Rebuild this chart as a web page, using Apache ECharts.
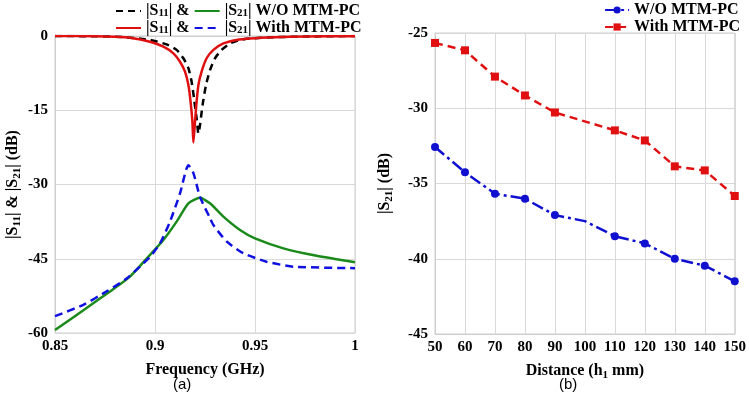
<!DOCTYPE html>
<html>
<head>
<meta charset="utf-8">
<script src="https://cdn.jsdelivr.net/npm/echarts@6/dist/echarts.min.js"></script>
<style>
html, body { margin: 0; padding: 0; background: #fff; }
#main { width: 749px; height: 403px; }
</style>
</head>
<body>
<div id="main"></div>
<script>
var myChart = echarts.init(document.getElementById('main'));

// (a) frequency sweep, GHz / dB
var fS11WO = [0.85, 0.87, 0.88, 0.8875, 0.8975, 0.9058, 0.9108, 0.9142, 0.9167, 0.9183, 0.9195, 0.9208, 0.9217, 0.9225, 0.9238, 0.9255, 0.9275, 0.93, 0.9333, 0.9375, 0.9425, 0.9475, 0.96, 0.975, 1.0];
var s11WO  = [0, -0.05, -0.15, -0.34, -0.8, -1.7, -2.8, -4.5, -6.5, -9.2, -12.6, -16.6, -19.7, -18, -13.9, -9.9, -6.9, -4.5, -2.8, -1.5, -0.8, -0.5, -0.25, -0.1, 0];
var fS11W  = [0.85, 0.87, 0.88, 0.8875, 0.8975, 0.9042, 0.9092, 0.9125, 0.915, 0.9167, 0.9178, 0.9187, 0.9192, 0.92, 0.9208, 0.9217, 0.9233, 0.9258, 0.9292, 0.9342, 0.9408, 0.9475, 0.96, 0.975, 1.0];
var s11W   = [0, -0.05, -0.15, -0.34, -1.15, -2.16, -3.5, -5.2, -7.2, -9.9, -13.3, -17.3, -21.5, -17.3, -13.3, -9.9, -7.2, -4.5, -2.8, -1.5, -0.8, -0.5, -0.25, -0.1, -0.05];
var fS21WO = [0.85, 0.8642, 0.8775, 0.8875, 0.8975, 0.9042, 0.9108, 0.9167, 0.9225, 0.9275, 0.9342, 0.9425, 0.95, 0.9642, 0.9808, 1.0];
var s21WO  = [-59.4, -55.4, -51.6, -48.6, -44.2, -41.2, -37.5, -33.8, -32.7, -33.8, -36.5, -39.2, -40.9, -42.9, -44.4, -45.7];
var fS21W  = [0.85, 0.8642, 0.8758, 0.8858, 0.8975, 0.9025, 0.9075, 0.9125, 0.9167, 0.9192, 0.9225, 0.9275, 0.9292, 0.9358, 0.9442, 0.9558, 0.9692, 1.0];
var s21W   = [-56.6, -54.3, -51.6, -49, -44.6, -41.9, -37.5, -31.8, -26.1, -27.7, -32.5, -36.8, -38.2, -41.5, -43.9, -45.6, -46.6, -46.9];

// (b) distance sweep, mm / dB
var distWO = [50, 60, 70, 80, 90, 100, 110, 120, 130, 140, 150];
var s21DistWO = [-32.57, -34.26, -35.68, -36.01, -37.1, -37.5, -38.5, -38.98, -40.0, -40.46, -41.5];
var distW = [50, 60, 70, 80, 90, 110, 120, 130, 140, 150];
var s21DistW = [-25.66, -26.15, -27.9, -29.15, -30.28, -31.47, -32.14, -33.86, -34.13, -35.83];

var yTicksA = [0, -15, -30, -45, -60];
var xTicksA = ['0.85', '0.9', '0.95', '1'];

function zip(xs, ys) {
    return xs.map(function (x, k) { return [x, ys[k]]; });
}

var serif = 'Liberation Serif';
var sub = { fontSize: 11, lineHeight: 10, verticalAlign: 'bottom', fontFamily: serif, fontWeight: 'bold', color: '#000' };
var txt = { fontSize: 16, lineHeight: 20, fontFamily: serif, fontWeight: 'bold', color: '#000' };
var gridLine = { show: true, lineStyle: { color: '#d9d9d9', width: 1 } };
var axisLbl = { color: '#000', fontFamily: serif, fontWeight: 'bold', fontSize: 15 };

var legendNames = {
    'S11 WO': '|S{s|11}| &',
    'S21 WO': '|S{s|21}| W/O MTM-PC',
    'S11 W': '|S{s|11}| &',
    'S21 W': '|S{s|21}| With MTM-PC'
};

function legendA(top, names) {
    return {
        left: 115, top: top, itemWidth: 25, itemHeight: 12, itemGap: 4, padding: 0,
        data: names,
        itemStyle: { opacity: 0 },
        formatter: function (n) { return legendNames[n]; },
        textStyle: { fontFamily: serif, fontWeight: 'bold', fontSize: 16, color: '#000', lineHeight: 16,
            rich: { s: { fontSize: 11, lineHeight: 8, verticalAlign: 'bottom', fontFamily: serif, fontWeight: 'bold', color: '#000' } } }
    };
}

option = {
    animation: false,
    backgroundColor: '#fff',
    title: [
        { text: '(a)', left: 168, top: 372, textStyle: { fontFamily: 'Liberation Sans', fontWeight: 'normal', fontSize: 15, color: '#000' } },
        { text: '(b)', left: 554, top: 372, textStyle: { fontFamily: 'Liberation Sans', fontWeight: 'normal', fontSize: 15, color: '#000' } }
    ],
    legend: [
        legendA(3, ['S11 WO', 'S21 WO']),
        legendA(20, ['S11 W', 'S21 W']),
        {
            right: 9, top: 2, orient: 'vertical', itemWidth: 24, itemHeight: 9, itemGap: 1, padding: 0,
            data: ['W/O MTM-PC', 'With MTM-PC'],
            textStyle: { fontFamily: serif, fontWeight: 'bold', fontSize: 16, color: '#000' }
        }
    ],
    grid: [
        { left: 55, right: 394, top: 36, bottom: 70, show: true, borderColor: '#cfcfcf', borderWidth: 1 },
        { left: 435, right: 13, top: 33, bottom: 69, show: true, borderColor: '#cfcfcf', borderWidth: 1 }
    ],
    xAxis: [
        {
            gridIndex: 0, type: 'value', min: 0.85, max: 1, interval: 0.05,
            name: 'Frequency (GHz)', nameLocation: 'middle', nameGap: 27,
            nameTextStyle: txt,
            axisLine: { lineStyle: { color: '#cfcfcf' } }, axisTick: { show: false },
            axisLabel: Object.assign({ margin: 6, formatter: function (v) {
                var s = (Math.round(v * 100) / 100).toString();
                return xTicksA.indexOf(s) >= 0 ? s : '';
            } }, axisLbl),
            splitLine: gridLine
        },
        {
            gridIndex: 1, type: 'value', min: 50, max: 150, interval: 10,
            name: 'Distance (h{s|1} mm)', nameLocation: 'middle', nameGap: 27,
            nameTextStyle: Object.assign({ rich: { s: sub } }, txt),
            axisLine: { lineStyle: { color: '#cfcfcf' } }, axisTick: { show: false },
            axisLabel: Object.assign({ margin: 6 }, axisLbl),
            splitLine: gridLine
        }
    ],
    yAxis: [
        {
            gridIndex: 0, type: 'value', min: -60, max: 0, interval: 15,
            name: '|S{s|11}| & |S{s|21}| (dB)', nameLocation: 'middle', nameGap: 32,
            nameTextStyle: Object.assign({ rich: { s: sub } }, txt),
            axisLine: { show: true, lineStyle: { color: '#cfcfcf' } }, axisTick: { show: false },
            axisLabel: Object.assign({ margin: 7, formatter: function (v) {
                return yTicksA.indexOf(v) >= 0 ? String(v) : '';
            } }, axisLbl),
            splitLine: gridLine
        },
        {
            gridIndex: 1, type: 'value', min: -45, max: -25, interval: 5,
            name: '|S{s|21}| (dB)', nameLocation: 'middle', nameGap: 40,
            nameTextStyle: Object.assign({ rich: { s: sub } }, txt),
            axisLine: { show: true, lineStyle: { color: '#cfcfcf' } }, axisTick: { show: false },
            axisLabel: Object.assign({ margin: 7 }, axisLbl),
            splitLine: gridLine
        }
    ],
    series: [
        {
            name: 'S21 WO', type: 'line', xAxisIndex: 0, yAxisIndex: 0, symbol: 'none',
            data: zip(fS21WO, s21WO), smooth: 0.2,
            lineStyle: { color: '#1a8a1a', width: 2.5 }, itemStyle: { color: '#1a8a1a' }
        },
        {
            name: 'S21 W', type: 'line', xAxisIndex: 0, yAxisIndex: 0, symbol: 'none',
            data: zip(fS21W, s21W), smooth: 0.2,
            lineStyle: { color: '#1010e0', width: 2.5, type: [8, 5] }, itemStyle: { color: '#1010e0' }
        },
        {
            name: 'S11 WO', type: 'line', xAxisIndex: 0, yAxisIndex: 0, symbol: 'none',
            data: zip(fS11WO, s11WO), smooth: 0.2,
            lineStyle: { color: '#000', width: 2.5, type: [7, 5] }, itemStyle: { color: '#000' }
        },
        {
            name: 'S11 W', type: 'line', xAxisIndex: 0, yAxisIndex: 0, symbol: 'none',
            data: zip(fS11W, s11W), smooth: 0.2,
            lineStyle: { color: '#e01010', width: 2.5 }, itemStyle: { color: '#e01010' }
        },
        {
            name: 'W/O MTM-PC', type: 'line', xAxisIndex: 1, yAxisIndex: 1,
            symbol: 'circle', symbolSize: 8,
            data: zip(distWO, s21DistWO).map(function (p) {
                return p[0] === 100 ? { value: p, symbol: 'none' } : p;
            }),
            lineStyle: { color: '#1010d0', width: 2.5, type: [12, 4, 3, 4] }, itemStyle: { color: '#1010d0' }
        },
        {
            name: 'With MTM-PC', type: 'line', xAxisIndex: 1, yAxisIndex: 1,
            symbol: 'rect', symbolSize: 8,
            data: zip(distW, s21DistW),
            lineStyle: { color: '#e01010', width: 2.5, type: [8, 5] }, itemStyle: { color: '#e01010' }
        }
    ]
};
myChart.setOption(option);
</script>
</body>
</html>
